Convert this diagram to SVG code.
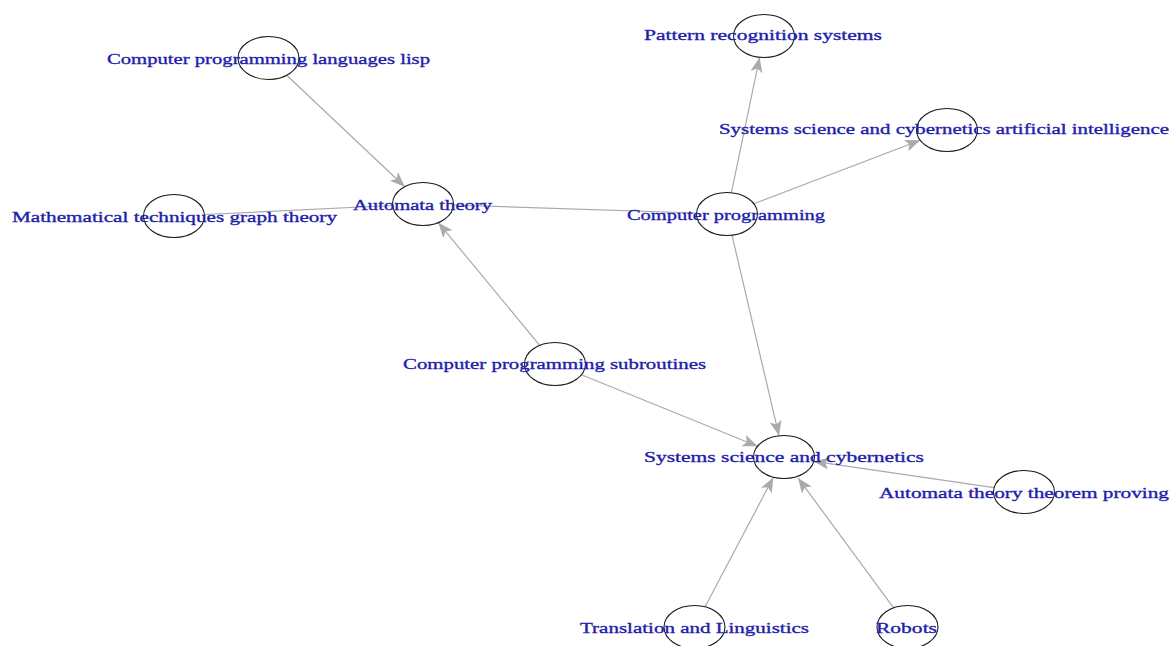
<svg xmlns="http://www.w3.org/2000/svg" width="1171" height="646" viewBox="0 0 1171 646">
<style>
.edge{stroke:#aaaaaa;stroke-width:1.2;fill:none}
.arr{marker-end:url(#ah)}
.node ellipse{fill:none;stroke:#1a1a1a;stroke-width:1.1}
.node text{font-family:"Liberation Serif","Times New Roman",serif;font-size:15.5px;fill:#1e1eaa;stroke:#1e1eaa;stroke-width:0.35;text-anchor:middle}
</style>
<defs>
<marker id="ah" markerUnits="userSpaceOnUse" markerWidth="16" markerHeight="13" refX="15" refY="6" orient="auto" viewBox="0 0 16 13">
<path d="M15,6 L0,0 L3.5,6 L0,12 Z" fill="#aaaaaa"/>
</marker>
</defs>
<rect width="1171" height="646" fill="#ffffff"/>
<g id="connectors">
<line class="edge arr" x1="286.7" y1="75.2" x2="404.8" y2="186.8"/>
<line class="edge" x1="204.4" y1="214.5" x2="392.6" y2="205.5"/>
<line class="edge" x1="696.5" y1="213" x2="453.5" y2="205"/>
<line class="edge arr" x1="539.7" y1="345.4" x2="438.3" y2="222.6"/>
<line class="edge arr" x1="731.4" y1="192.7" x2="759.6" y2="57.3"/>
<line class="edge arr" x1="753.8" y1="203.8" x2="920.2" y2="140.2"/>
<line class="edge arr" x1="732" y1="235.2" x2="779" y2="435.8"/>
<line class="edge arr" x1="581.4" y1="374.7" x2="757.6" y2="446.3"/>
<line class="edge arr" x1="994.1" y1="487.6" x2="813.9" y2="461.4"/>
<line class="edge arr" x1="705.1" y1="606.8" x2="773.4" y2="477.2"/>
<line class="edge arr" x1="893.6" y1="607.9" x2="798" y2="477.9"/>
</g>
<g id="n-lisp" class="node"><ellipse cx="268.5" cy="58" rx="30.5" ry="21.5"/><text x="268.5" y="63.5" textLength="323" lengthAdjust="spacingAndGlyphs">Computer programming languages lisp</text></g>
<g id="n-pattern" class="node"><ellipse cx="764" cy="36" rx="30.5" ry="21.5"/><text x="763" y="40" textLength="238" lengthAdjust="spacingAndGlyphs">Pattern recognition systems</text></g>
<g id="n-ssc-ai" class="node"><ellipse cx="947" cy="130" rx="30.5" ry="21.5"/><text x="944" y="134" textLength="450" lengthAdjust="spacingAndGlyphs">Systems science and cybernetics artificial intelligence</text></g>
<g id="n-math" class="node"><ellipse cx="174" cy="216" rx="30.5" ry="21.5"/><text x="174.5" y="222" textLength="325" lengthAdjust="spacingAndGlyphs">Mathematical techniques graph theory</text></g>
<g id="n-automata" class="node"><ellipse cx="423" cy="204" rx="30.5" ry="21.5"/><text x="422.5" y="209.5" textLength="139" lengthAdjust="spacingAndGlyphs">Automata theory</text></g>
<g id="n-cp" class="node"><ellipse cx="727" cy="214" rx="30.5" ry="21.5"/><text x="726" y="220" textLength="198" lengthAdjust="spacingAndGlyphs">Computer programming</text></g>
<g id="n-sub" class="node"><ellipse cx="555" cy="364" rx="30.5" ry="21.5"/><text x="554.5" y="368.5" textLength="303" lengthAdjust="spacingAndGlyphs">Computer programming subroutines</text></g>
<g id="n-ssc" class="node"><ellipse cx="784" cy="457" rx="30.5" ry="21.5"/><text x="784" y="462" textLength="280" lengthAdjust="spacingAndGlyphs">Systems science and cybernetics</text></g>
<g id="n-atp" class="node"><ellipse cx="1024" cy="492" rx="30.5" ry="21.5"/><text x="1024" y="498" textLength="290" lengthAdjust="spacingAndGlyphs">Automata theory theorem proving</text></g>
<g id="n-trans" class="node"><ellipse cx="694.5" cy="627" rx="30.5" ry="21.5"/><text x="694.5" y="633" textLength="229" lengthAdjust="spacingAndGlyphs">Translation and Linguistics</text></g>
<g id="n-robots" class="node"><ellipse cx="907.5" cy="627" rx="30.5" ry="21.5"/><text x="906.5" y="633" textLength="61" lengthAdjust="spacingAndGlyphs">Robots</text></g>
</svg>
